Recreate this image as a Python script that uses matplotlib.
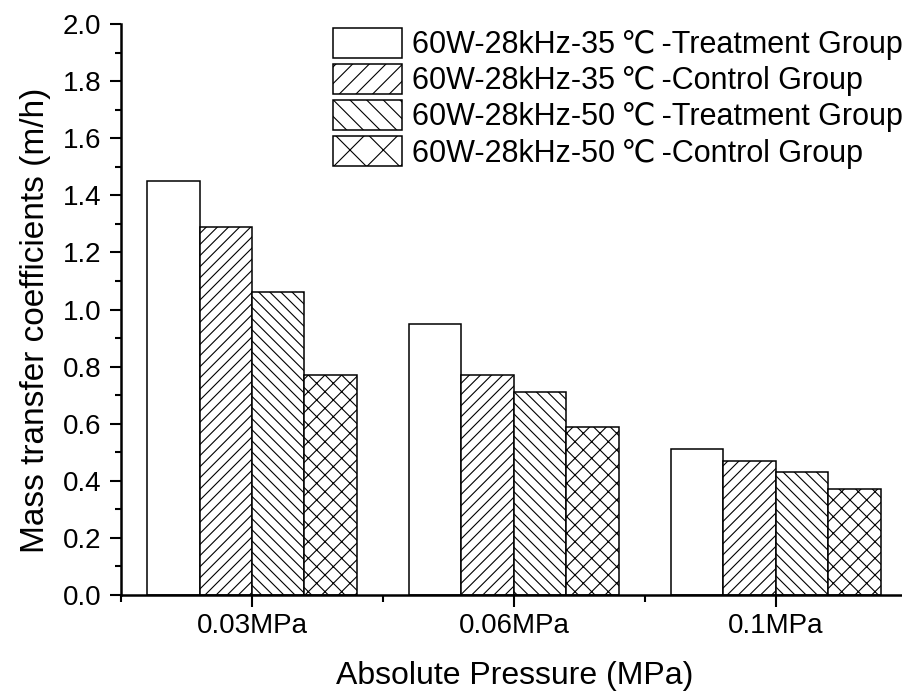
import matplotlib.pyplot as plt
from matplotlib.patches import Patch
from matplotlib.ticker import MultipleLocator, FixedLocator
import numpy as np

plt.rcParams['font.family'] = ['Liberation Sans', 'DejaVu Sans']
plt.rcParams['hatch.linewidth'] = 0.8
plt.rcParams['hatch.color'] = '#2a2a2a'

pressures = ["0.03MPa", "0.06MPa", "0.1MPa"]
series_names = [
    "60W-28kHz-35\u2009℃\u2009-Treatment Group",
    "60W-28kHz-35\u2009℃\u2009-Control Group",
    "60W-28kHz-50\u2009℃\u2009-Treatment Group",
    "60W-28kHz-50\u2009℃\u2009-Control Group",
]
treat_35 = [1.45, 0.95, 0.51]
control_35 = [1.29, 0.77, 0.47]
treat_50 = [1.06, 0.71, 0.43]
control_50 = [0.77, 0.59, 0.37]
# bars get a finer hatch than the legend boxes
bar_hatches = ["", "///", "\\\\\\", "xx"]
legend_hatches = ["", "//", "\\\\", "x"]

values = [treat_35, control_35, treat_50, control_50]
x = np.arange(len(pressures))
width = 0.2

fig = plt.figure(figsize=(9.02, 6.96), dpi=100)
ax = fig.add_axes([121 / 902, 101 / 696, 781 / 902, 571 / 696])

for i, (vals, h) in enumerate(zip(values, bar_hatches)):
    ax.bar(x + (i - 1.5) * width, vals, width, facecolor='white', edgecolor='black',
           linewidth=1.1, hatch=h)

ax.set_xlim(-0.5, 2.482)
ax.set_ylim(0, 2.0)
yt = np.arange(0, 2.01, 0.2)
ax.set_yticks(yt)
ax.set_yticklabels([f"{v:.1f}" for v in yt])
ax.yaxis.set_minor_locator(MultipleLocator(0.1))
ax.set_xticks(x)
ax.set_xticklabels(pressures)
ax.xaxis.set_minor_locator(FixedLocator([-0.5, 0.5, 1.5]))

for side in ['top', 'right']:
    ax.spines[side].set_visible(False)
for side in ['left', 'bottom']:
    ax.spines[side].set_linewidth(1.8)

ax.tick_params(axis='both', which='both', direction='out', width=1.5, labelsize=20)
ax.tick_params(axis='y', which='major', length=8, pad=6)
ax.tick_params(axis='y', which='minor', length=4.3)
ax.tick_params(axis='x', which='major', length=8.8, pad=4)
ax.tick_params(axis='x', which='minor', length=5)

ax.set_ylabel("Mass transfer coefficients (m/h)", fontsize=24)
ax.yaxis.set_label_coords(-0.09, 0.481)
ax.set_xlabel("Absolute Pressure (MPa)", fontsize=23)
ax.xaxis.set_label_coords(0.5036, -0.1155)

handles = [Patch(facecolor='white', edgecolor='black', linewidth=1.1, hatch=h)
           for h in legend_hatches]
ax.legend(handles, series_names, loc='upper left',
          bbox_to_anchor=(333 / 902, 1 - 28 / 696), bbox_transform=fig.transFigure,
          frameon=False, fontsize=22, handlelength=2.25, handleheight=1.11,
          labelspacing=0.13, handletextpad=0.33, borderpad=0, borderaxespad=0)

fig.savefig("out.png", dpi=100)
